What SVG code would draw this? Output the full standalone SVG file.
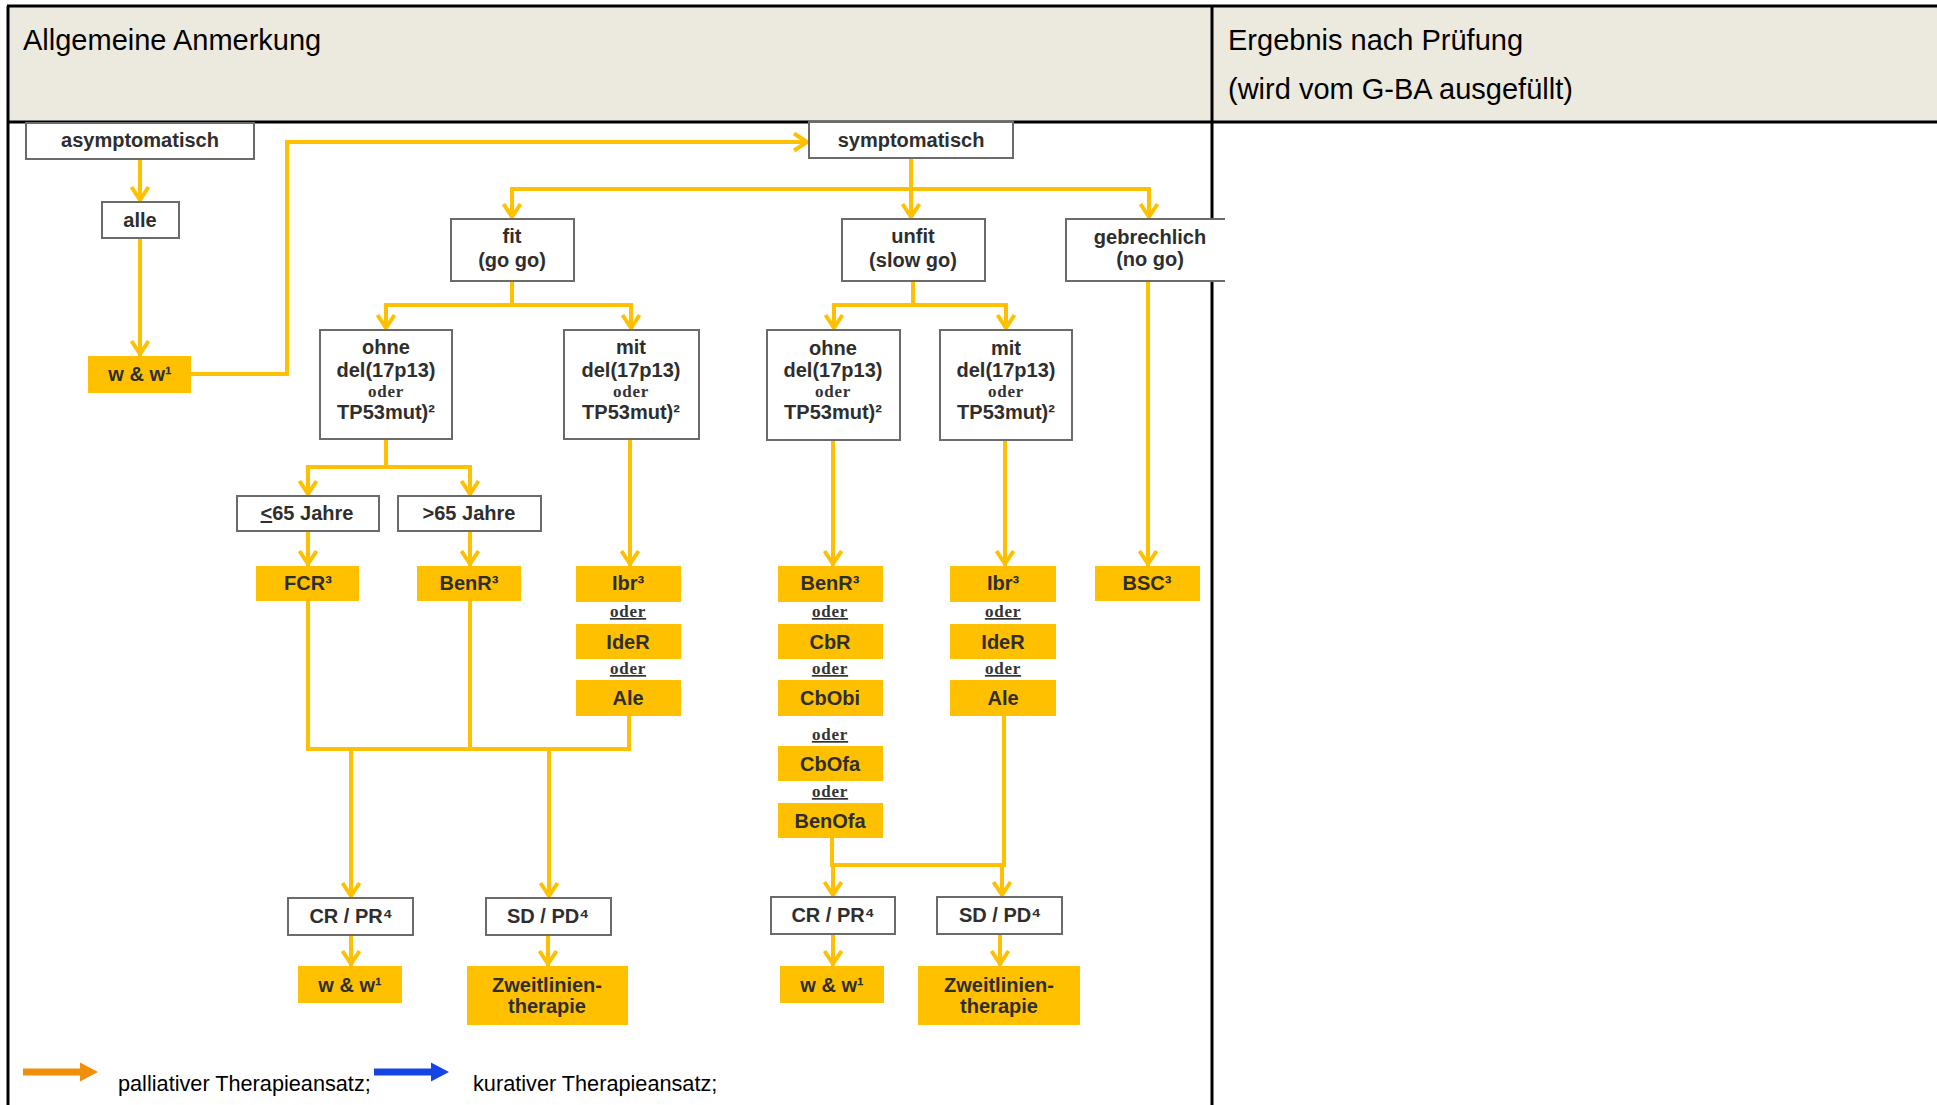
<svg xmlns="http://www.w3.org/2000/svg" width="1937" height="1105" viewBox="0 0 1937 1105">
<style>
.hd{font-family:"Liberation Sans",Arial,sans-serif;font-size:29px;fill:#000}
.box{fill:#fff;stroke:#6b6b6b;stroke-width:2}
.tx{fill:#FFC000}
.t{font-family:"Liberation Sans",Arial,sans-serif;font-weight:bold;font-size:20px;fill:#2e2e2e;text-anchor:middle}
.or{font-family:"Liberation Serif","Times New Roman",serif;font-weight:bold;font-size:17px;fill:#333;text-anchor:middle;letter-spacing:0.8px}
.u{text-decoration:underline}
.c{fill:none;stroke:#FFC000;stroke-width:4}
.a{marker-end:url(#ah)}
.lg{font-family:"Liberation Sans",Arial,sans-serif;font-size:21.7px;fill:#000}
.tl{stroke:#000;stroke-width:3;fill:none}
</style>
<defs>
<marker id="ah" markerUnits="userSpaceOnUse" viewBox="-20 -12 24 24" markerWidth="24" markerHeight="24" refX="0" refY="0" orient="auto">
<path d="M-15 -8.5 L-2 0 L-15 8.5" fill="none" stroke="#FFC000" stroke-width="4" stroke-linejoin="round"/>
</marker>
</defs>
<rect width="1937" height="1105" fill="#fff"/>
<g id="table">
<rect x="8" y="6" width="1929" height="116" fill="#ECEADF"/>
<path class="tl" d="M7 6H1937M8 6V1105M8 122H1937M1212 6V1105"/>
<text class="hd" x="23" y="50">Allgemeine Anmerkung</text>
<text class="hd" x="1228" y="50">Ergebnis nach Prüfung</text>
<text class="hd" x="1228" y="99">(wird vom G-BA ausgefüllt)</text>
</g>
<g id="connectors">
<path class="c a" d="M140 159V202"/>
<path class="c a" d="M140 238V356"/>
<path class="c a" d="M191 374H287V142H809"/>
<path class="c a" d="M911 158V219"/>
<path class="c a" d="M911 189H512V219"/>
<path class="c a" d="M911 189H1149V219"/>
<path class="c a" d="M512 281V305H386V330"/>
<path class="c a" d="M512 305H631V330"/>
<path class="c a" d="M913 281V305H834V330"/>
<path class="c a" d="M913 305H1006V330"/>
<path class="c a" d="M386 439V467H308V496"/>
<path class="c a" d="M386 467H470V496"/>
<path class="c a" d="M308 531V566"/>
<path class="c a" d="M470 531V566"/>
<path class="c a" d="M630 439V566"/>
<path class="c a" d="M833 440V566"/>
<path class="c a" d="M1005 440V566"/>
<path class="c a" d="M1148 281V566"/>
<path class="c" d="M308 601V749H629V716M470 601V749"/>
<path class="c a" d="M351 749V898"/>
<path class="c a" d="M549 749V898"/>
<path class="c" d="M832 838V865H1004V716"/>
<path class="c a" d="M833 865V897"/>
<path class="c a" d="M1002 865V897"/>
<path class="c a" d="M351 935V966"/>
<path class="c a" d="M548 935V966"/>
<path class="c a" d="M833 934V966"/>
<path class="c a" d="M1000 934V966"/>
</g>
<g id="asymptomatisch"><rect class="box" x="26" y="123" width="228" height="36"/><text class="t" x="140" y="147">asymptomatisch</text></g>
<g id="alle"><rect class="box" x="102" y="202" width="77" height="36"/><text class="t" x="140" y="227">alle</text></g>
<g id="ww1"><rect class="tx" x="88" y="356" width="103" height="37"/><text class="t" x="140" y="381">w &amp; w¹</text></g>
<g id="symptomatisch"><rect class="box" x="809" y="122" width="204" height="36"/><text class="t" x="911" y="147">symptomatisch</text></g>
<g id="fit"><rect class="box" x="451" y="219" width="123" height="62"/><text class="t" x="512" y="243">fit</text><text class="t" x="512" y="267">(go go)</text></g>
<g id="unfit"><rect class="box" x="842" y="219" width="143" height="62"/><text class="t" x="913" y="243">unfit</text><text class="t" x="913" y="267">(slow go)</text></g>
<g id="gebrechlich"><rect x="1066" y="219" width="159" height="62" fill="#fff"/><path d="M1225 219H1066V281H1225" fill="none" stroke="#6b6b6b" stroke-width="2"/><text class="t" x="1150" y="244">gebrechlich</text><text class="t" x="1150" y="266">(no go)</text></g>
<g id="fit-ohne"><rect class="box" x="320" y="330" width="132" height="109"/><text class="t" x="386" y="354">ohne</text><text class="t" x="386" y="377">del(17p13)</text><text class="or" x="386" y="397">oder</text><text class="t" x="386" y="419">TP53mut)²</text></g>
<g id="fit-mit"><rect class="box" x="564" y="330" width="135" height="109"/><text class="t" x="631" y="354">mit</text><text class="t" x="631" y="377">del(17p13)</text><text class="or" x="631" y="397">oder</text><text class="t" x="631" y="419">TP53mut)²</text></g>
<g id="unfit-ohne"><rect class="box" x="767" y="330" width="133" height="110"/><text class="t" x="833" y="355">ohne</text><text class="t" x="833" y="377">del(17p13)</text><text class="or" x="833" y="397">oder</text><text class="t" x="833" y="419">TP53mut)²</text></g>
<g id="unfit-mit"><rect class="box" x="940" y="330" width="132" height="110"/><text class="t" x="1006" y="355">mit</text><text class="t" x="1006" y="377">del(17p13)</text><text class="or" x="1006" y="397">oder</text><text class="t" x="1006" y="419">TP53mut)²</text></g>
<g id="le65"><rect class="box" x="237" y="496" width="142" height="35"/><text class="t" x="307" y="520"><tspan class="u">&lt;</tspan>65 Jahre</text></g>
<g id="gt65"><rect class="box" x="398" y="496" width="143" height="35"/><text class="t" x="469" y="520">&gt;65 Jahre</text></g>
<g id="fcr"><rect class="tx" x="256" y="566" width="103" height="35"/><text class="t" x="308" y="590">FCR³</text></g>
<g id="benr-fit"><rect class="tx" x="417" y="566" width="104" height="35"/><text class="t" x="469" y="590">BenR³</text></g>
<g id="fit-mit-tx">
<rect class="tx" x="576" y="566" width="105" height="36"/><text class="t" x="628" y="590">Ibr³</text>
<text class="or u" x="628" y="617">oder</text>
<rect class="tx" x="576" y="624" width="105" height="35"/><text class="t" x="628" y="649">IdeR</text>
<text class="or u" x="628" y="674">oder</text>
<rect class="tx" x="576" y="680" width="105" height="36"/><text class="t" x="628" y="705">Ale</text>
</g>
<g id="unfit-ohne-tx">
<rect class="tx" x="778" y="566" width="105" height="36"/><text class="t" x="830" y="590">BenR³</text>
<text class="or u" x="830" y="617">oder</text>
<rect class="tx" x="778" y="624" width="105" height="35"/><text class="t" x="830" y="649">CbR</text>
<text class="or u" x="830" y="674">oder</text>
<rect class="tx" x="778" y="680" width="105" height="36"/><text class="t" x="830" y="705">CbObi</text>
<text class="or u" x="830" y="740">oder</text>
<rect class="tx" x="778" y="746" width="105" height="35"/><text class="t" x="830" y="771">CbOfa</text>
<text class="or u" x="830" y="797">oder</text>
<rect class="tx" x="778" y="803" width="105" height="35"/><text class="t" x="830" y="828">BenOfa</text>
</g>
<g id="unfit-mit-tx">
<rect class="tx" x="950" y="566" width="106" height="36"/><text class="t" x="1003" y="590">Ibr³</text>
<text class="or u" x="1003" y="617">oder</text>
<rect class="tx" x="950" y="624" width="106" height="35"/><text class="t" x="1003" y="649">IdeR</text>
<text class="or u" x="1003" y="674">oder</text>
<rect class="tx" x="950" y="680" width="106" height="36"/><text class="t" x="1003" y="705">Ale</text>
</g>
<g id="bsc"><rect class="tx" x="1095" y="566" width="105" height="35"/><text class="t" x="1147" y="590">BSC³</text></g>
<g id="crpr-fit"><rect class="box" x="288" y="898" width="125" height="37"/><text class="t" x="351" y="923">CR / PR⁴</text></g>
<g id="sdpd-fit"><rect class="box" x="486" y="898" width="125" height="37"/><text class="t" x="548" y="923">SD / PD⁴</text></g>
<g id="ww-fit"><rect class="tx" x="298" y="966" width="104" height="37"/><text class="t" x="350" y="992">w &amp; w¹</text></g>
<g id="zweit-fit"><rect class="tx" x="467" y="966" width="161" height="59"/><text class="t" x="547" y="992">Zweitlinien-</text><text class="t" x="547" y="1013">therapie</text></g>
<g id="crpr-unfit"><rect class="box" x="771" y="897" width="124" height="37"/><text class="t" x="833" y="922">CR / PR⁴</text></g>
<g id="sdpd-unfit"><rect class="box" x="937" y="897" width="125" height="37"/><text class="t" x="1000" y="922">SD / PD⁴</text></g>
<g id="ww-unfit"><rect class="tx" x="780" y="966" width="104" height="37"/><text class="t" x="832" y="992">w &amp; w¹</text></g>
<g id="zweit-unfit"><rect class="tx" x="918" y="966" width="162" height="59"/><text class="t" x="999" y="992">Zweitlinien-</text><text class="t" x="999" y="1013">therapie</text></g>
<g id="legend">
<path d="M23 1068.5H80V1062.5L98 1072L80 1081.5V1075.5H23Z" fill="#F0900A"/>
<text class="lg" x="118" y="1091">palliativer Therapieansatz;</text>
<path d="M374 1068.5H431V1062.5L449 1072L431 1081.5V1075.5H374Z" fill="#1545E5"/>
<text class="lg" x="473" y="1091">kurativer Therapieansatz;</text>
</g>
</svg>
